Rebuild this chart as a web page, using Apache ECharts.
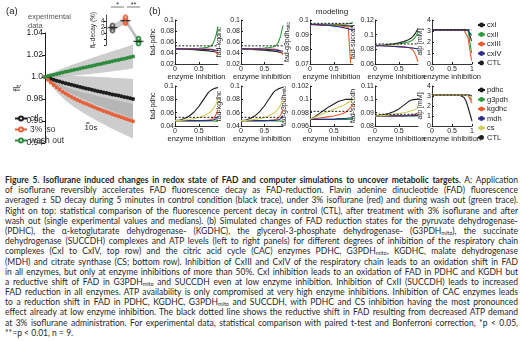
<!DOCTYPE html>
<html>
<head>
<meta charset="utf-8">
<script src="https://cdn.jsdelivr.net/npm/echarts@6/dist/echarts.min.js"></script>
<style>
  html, body { margin: 0; padding: 0; background: #fff; width: 523px; height: 341px; overflow: hidden; }
  #chart { position: absolute; left: 0; top: 0; width: 523px; height: 172px; }
  #caption { position: absolute; left: 5px; top: 175px; width: 513px;
             font-family: Lato, 'Open Sans', sans-serif; font-size: 8.5px; line-height: 10.2px; color: #262626; }
  #caption div { text-align: justify; text-align-last: justify; height: 10.2px; overflow: hidden; }
  #caption div.last { text-align-last: left; }
  #caption sub { font-size: 5.5px; vertical-align: -1px; line-height: 0; }
</style>
</head>
<body>
<div id="chart"></div>
<div id="caption">
  <div><b>Figure 5. Isoflurane induced changes in redox state of FAD and computer simulations to uncover metabolic targets.</b> A: Application</div>
  <div>of isoflurane reversibly accelerates FAD fluorescence decay as FAD-reduction. Flavin adenine dinucleotide (FAD) fluorescence</div>
  <div>averaged ± SD decay during 5 minutes in control condition (black trace), under 3% isoflurane (red) and during wash out (green trace).</div>
  <div>Right on top: statistical comparison of the fluorescence percent decay in control (CTL), after treatment with 3% isoflurane and after</div>
  <div>wash out (single experimental values and medians). (b) Simulated changes of FAD reduction states for the pyruvate dehydrogenase-</div>
  <div>(PDHC), the α-ketoglutarate dehydrogenase- (KGDHC), the glycerol-3-phosphate dehydrogenase- (G3PDH<sub>mito</sub>), the succinate</div>
  <div>dehydrogenase (SUCCDH) complexes and ATP levels (left to right panels) for different degrees of inhibition of the respiratory chain</div>
  <div>complexes (CxI to CxIV, top row) and the citric acid cycle (CAC) enzymes PDHC, G3PDH<sub>mito</sub>, KGDHC, malate dehydrogenase</div>
  <div>(MDH) and citrate synthase (CS; bottom row). Inhibition of CxIII and CxIV of the respiratory chain leads to an oxidation shift in FAD</div>
  <div>in all enzymes, but only at enzyme inhibitions of more than 50%. CxI inhibition leads to an oxidation of FAD in PDHC and KGDH but</div>
  <div>a reductive shift of FAD in G3PDH<sub>mito</sub> and SUCCDH even at low enzyme inhibition. Inhibition of CxII (SUCCDH) leads to increased</div>
  <div>FAD reduction in all enzymes. ATP availability is only compromised at very high enzyme inhibitions. Inhibition of CAC enzymes leads</div>
  <div>to a reduction shift in FAD in PDHC, KGDHC, G3PDH<sub>mito</sub> and SUCCDH, with PDHC and CS inhibition having the most pronounced</div>
  <div>effect already at low enzyme inhibition. The black dotted line shows the reductive shift in FAD resulting from decreased ATP demand</div>
  <div>at 3% isoflurane administration. For experimental data, statistical comparison with paired t-test and Bonferroni correction, *p &lt; 0.05,</div>
  <div class="last">**=p &lt; 0.01, n = 9.</div>
</div>
<script>
// ---------- (a) experimental FAD fluorescence, 5 min recordings ----------
const timeSec = [0,10,20,30,40,50,60,70,80,90,100,110,120,130,140,150,160,170,180,190,200,210,220,230,240,250,260,270,280,290,300];
const flCtl  = [1.0000,0.9991,0.9983,0.9975,0.9966,0.9959,0.9951,0.9944,0.9936,0.9929,0.9923,0.9916,0.9909,0.9903,0.9896,0.9890,0.9884,0.9878,0.9871,0.9866,0.9860,0.9854,0.9848,0.9842,0.9836,0.9831,0.9825,0.9819,0.9813,0.9807,0.9800];
const flIso  = [1.0000,0.9975,0.9951,0.9928,0.9906,0.9886,0.9867,0.9849,0.9833,0.9818,0.9804,0.9791,0.9779,0.9767,0.9756,0.9745,0.9734,0.9723,0.9712,0.9702,0.9692,0.9682,0.9672,0.9662,0.9652,0.9643,0.9634,0.9625,0.9616,0.9607,0.9598];
const flWash = [1.0000,1.0008,1.0015,1.0021,1.0028,1.0034,1.0041,1.0047,1.0053,1.0059,1.0065,1.0071,1.0077,1.0083,1.0089,1.0095,1.0101,1.0107,1.0113,1.0119,1.0125,1.0131,1.0137,1.0143,1.0149,1.0155,1.0161,1.0167,1.0173,1.0180,1.0187];
const sdCtl  = [0,0.0017,0.0028,0.0037,0.0046,0.0054,0.0061,0.0068,0.0075,0.0081,0.0086,0.0092,0.0098,0.0104,0.0109,0.0114,0.0120,0.0124,0.0129,0.0133,0.0138,0.0143,0.0147,0.0152,0.0156,0.0161,0.0164,0.0169,0.0173,0.0177,0.0181];
const sdIso  = [0,0.0016,0.0026,0.0034,0.0042,0.0049,0.0056,0.0062,0.0068,0.0073,0.0078,0.0083,0.0088,0.0093,0.0097,0.0102,0.0106,0.0110,0.0114,0.0118,0.0122,0.0126,0.0130,0.0134,0.0137,0.0141,0.0144,0.0148,0.0151,0.0155,0.0158];
const sdWash = [0,0.0010,0.0016,0.0022,0.0028,0.0033,0.0037,0.0041,0.0045,0.0049,0.0053,0.0056,0.0060,0.0063,0.0066,0.0069,0.0072,0.0075,0.0078,0.0081,0.0084,0.0086,0.0089,0.0091,0.0094,0.0096,0.0099,0.0101,0.0104,0.0106,0.0110];
const flTickLabels = ['0.94','0.96','0.98','1.0','1.02','1.04'];

// inset: percent decay per cell (n = 9) and medians
const decayGroups = ['CTL','iso','wash'];
const decayCtl  = [1.2,1.5,1.8,2.0,2.1,2.3,2.6,1.0,0.7];
const decayIso  = [3.2,3.8,4.1,4.4,4.6,4.9,5.3,3.5,4.0];
const decayWash = [-2.0,-2.5,-2.8,-3.0,-3.2,-3.4,-2.2,-1.8,-3.6];
const decayMedians = [1.8,4.1,-2.8];
const decayTickLabels = ['6','4','2','0'];

// ---------- (b) model: FAD reduction and ATP vs enzyme inhibition ----------
const inhib = [0,0.1,0.2,0.3,0.4,0.5,0.6,0.7,0.75,0.8,0.85,0.9];
const complexNames = ['cxI','cxII','cxIII','cxIV'];
const cacNames = ['pdhc','g3pdh','kgdhc','mdh','cs'];
const panelTitles = ['fad-pdhc','fad-kgdhc','fad-g3pdh{s|mito}','fad-succdh','atp [mM]'];

// top row: respiratory chain complex inhibition (cxI, cxII, cxIII, cxIV)
const rcPdhc = [
  [0.0475,0.0472,0.0468,0.0463,0.0458,0.0452,0.0446,0.0438,0.0433,0.0427,0.0419,0.0408],
  [0.0475,0.0476,0.0478,0.0480,0.0483,0.0487,0.0494,0.0507,0.0526,0.0575,0.0690,0.0885],
  [0.0475,0.0475,0.0475,0.0475,0.0475,0.0475,0.0475,0.0474,0.0471,0.0462,0.0428,0.0362],
  [0.0475,0.0475,0.0474,0.0473,0.0471,0.0469,0.0466,0.0462,0.0459,0.0456,0.0451,0.0444]];
const rcKgdhc = [
  [0.0475,0.0472,0.0467,0.0462,0.0456,0.0450,0.0443,0.0434,0.0428,0.0420,0.0408,0.0390],
  [0.0475,0.0476,0.0478,0.0481,0.0485,0.0490,0.0498,0.0514,0.0535,0.0590,0.0710,0.0900],
  [0.0475,0.0475,0.0475,0.0475,0.0475,0.0475,0.0474,0.0472,0.0468,0.0458,0.0420,0.0365],
  [0.0475,0.0475,0.0474,0.0472,0.0470,0.0467,0.0463,0.0457,0.0453,0.0448,0.0440,0.0428]];
const rcG3pdh = [
  [0.0970,0.0969,0.0968,0.0967,0.0966,0.0965,0.0964,0.0962,0.0961,0.0960,0.0958,0.0955],
  [0.0970,0.0970,0.0970,0.0970,0.0970,0.0970,0.0970,0.0971,0.0972,0.0974,0.0977,0.0982],
  [0.0968,0.0967,0.0966,0.0965,0.0964,0.0962,0.0960,0.0957,0.0955,0.0950,0.0705,null],
  [0.0970,0.0969,0.0967,0.0965,0.0962,0.0958,0.0954,0.0948,0.0944,0.0940,0.0935,0.0928]];
const rcSuccdh = [
  [0.0850,0.0855,0.0860,0.0868,0.0877,0.0888,0.0905,0.0930,0.0950,0.0980,0.1025,0.1080],
  [0.0850,0.0854,0.0858,0.0863,0.0869,0.0876,0.0885,0.0900,0.0912,0.0935,0.0970,0.1040],
  [0.0850,0.0849,0.0848,0.0846,0.0843,0.0840,0.0835,0.0825,0.0812,0.0785,0.0725,0.0630],
  [0.0850,0.0848,0.0845,0.0842,0.0838,0.0834,0.0830,0.0825,0.0821,0.0817,0.0812,0.0806]];
const inhibAtpRc = [0,0.2,0.4,0.6,0.7,0.8,0.85,0.9,0.95,0.99];
const rcAtp = [
  [3.1,3.1,3.1,3.1,3.1,3.1,3.1,3.09,3.05,2.1],
  [3.1,3.1,3.1,3.1,3.1,3.1,3.1,3.08,2.9,1.0],
  [3.1,3.1,3.1,3.1,3.1,3.08,3.0,2.4,1.2,0.3],
  [3.1,3.1,3.1,3.1,3.1,3.1,3.1,3.07,3.0,2.6]];
const ctlRc = [0.0530,0.0530,0.0977,0.0873,3.1];

// bottom row: citric acid cycle enzyme inhibition (pdhc, g3pdh, kgdhc, mdh, cs)
const cacPdhc = [
  [0.0480,0.0490,0.0512,0.0550,0.0610,0.0695,0.0800,0.0905,0.0935,0.0955,0.0968,0.0978],
  [0.0478,0.0478,0.0477,0.0477,0.0476,0.0476,0.0475,0.0475,0.0474,0.0474,0.0473,0.0473],
  [0.0480,0.0480,0.0480,0.0480,0.0481,0.0482,0.0484,0.0490,0.0496,0.0515,0.0560,0.0650],
  [0.0480,0.0480,0.0480,0.0480,0.0480,0.0480,0.0481,0.0483,0.0485,0.0490,0.0505,0.0545],
  [0.0480,0.0484,0.0490,0.0498,0.0510,0.0527,0.0552,0.0590,0.0618,0.0655,0.0715,0.0800]];
const cacKgdhc = [
  [0.0480,0.0491,0.0514,0.0553,0.0615,0.0700,0.0805,0.0908,0.0937,0.0957,0.0970,0.0980],
  [0.0478,0.0478,0.0477,0.0477,0.0476,0.0476,0.0475,0.0475,0.0474,0.0474,0.0473,0.0473],
  [0.0480,0.0480,0.0480,0.0481,0.0482,0.0483,0.0486,0.0493,0.0500,0.0520,0.0565,0.0655],
  [0.0480,0.0480,0.0480,0.0480,0.0480,0.0481,0.0482,0.0484,0.0486,0.0492,0.0510,0.0555],
  [0.0480,0.0484,0.0490,0.0499,0.0511,0.0529,0.0555,0.0594,0.0622,0.0660,0.0720,0.0805]];
const cacG3pdh = [
  [0.0970,0.0974,0.0979,0.0984,0.0989,0.0993,0.0997,0.0999,0.1000,0.1000,0.1000,0.1000],
  [0.0970,0.0970,0.0970,0.0970,0.0970,0.0970,0.0970,0.0970,0.0970,0.0970,0.0970,0.0970],
  [0.0970,0.0971,0.0972,0.0973,0.0974,0.0975,0.0977,0.0979,0.0981,0.0984,0.0988,0.0993],
  [0.0970,0.0970,0.0970,0.0970,0.0970,0.0970,0.0971,0.0971,0.0971,0.0972,0.0972,0.0973],
  [0.0970,0.0973,0.0976,0.0979,0.0982,0.0985,0.0988,0.0991,0.0993,0.0995,0.0997,0.0999]];
const cacSuccdh = [
  [0.0875,0.0880,0.0886,0.0895,0.0908,0.0928,0.0955,0.0983,0.0993,0.0998,0.1000,0.1001],
  [0.0875,0.0875,0.0875,0.0875,0.0875,0.0875,0.0875,0.0875,0.0875,0.0875,0.0875,0.0875],
  [0.0875,0.0875,0.0875,0.0876,0.0876,0.0877,0.0878,0.0880,0.0882,0.0885,0.0890,0.0897],
  [0.0875,0.0875,0.0875,0.0875,0.0876,0.0876,0.0876,0.0877,0.0877,0.0878,0.0879,0.0881],
  [0.0875,0.0877,0.0880,0.0884,0.0888,0.0893,0.0899,0.0907,0.0912,0.0918,0.0926,0.0936]];
const inhibAtpCac = [0,0.2,0.4,0.6,0.7,0.75,0.8,0.85,0.9,0.95,1.0];
const cacAtp = [
  [3.1,3.1,3.1,3.1,3.08,3.02,2.85,2.5,1.9,1.2,0.5],
  [3.1,3.1,3.1,3.1,3.1,3.1,3.1,3.1,3.1,3.08,2.6],
  [3.1,3.1,3.1,3.1,3.1,3.1,3.1,3.1,3.08,3.0,2.3],
  [3.1,3.1,3.1,3.1,3.1,3.1,3.1,3.1,3.1,3.1,3.0],
  [3.1,3.1,3.1,3.1,3.1,3.1,3.1,3.1,3.09,3.05,2.8]];
const ctlCac = [0.0530,0.0530,0.0982,0.0888,3.1];

// ---------- styling ----------
const FONT = "'Liberation Sans', Arial, sans-serif";
const INK = '#1e1e1e';
const complexColors = ['#1e1e1e', '#2f9a3c', '#ea5a2e', '#2b2d86'];
const cacColors = ['#1e1e1e', '#2f9a3c', '#ea5a2e', '#2b2d86', '#cfcf5a'];
const expColors = { ctl: '#1e1e1e', iso: '#e8603a', wash: '#2e8c3e' };

const grid = [], xAxis = [], yAxis = [], series = [];

// (a) main trace axes
grid.push({ left: 45, top: 33, width: 88, height: 110 });
xAxis.push({ gridIndex: 0, type: 'category', data: timeSec, boundaryGap: false, show: false });
yAxis.push({
  gridIndex: 0, type: 'value', min: 0.94, max: 1.04, interval: 0.02,
  axisLine: { show: true, lineStyle: { color: INK, width: 1 } },
  axisTick: { show: true, length: 3, lineStyle: { color: INK } },
  axisLabel: { fontSize: 8.5, color: INK, margin: 2, fontFamily: FONT, formatter: (v, i) => flTickLabels[i] },
  splitLine: { show: false },
  name: '{m|fl}{s|t}', nameLocation: 'middle', nameGap: 18,
  nameTextStyle: { fontFamily: FONT, color: INK, rich: { m: { fontSize: 9 }, s: { fontSize: 6.5, padding: [4, 0, 0, 0] } } }
});

// (a) inset: percent decay
grid.push({ left: 106, top: 15, width: 39, height: 30 });
xAxis.push({ gridIndex: 1, type: 'category', data: decayGroups, show: false });
yAxis.push({
  gridIndex: 1, type: 'value', min: -4, max: 6, interval: 2,
  axisLine: { show: true, lineStyle: { color: INK, width: 0.8 } },
  axisTick: { show: true, length: 2, lineStyle: { color: INK } },
  axisLabel: { fontSize: 6.5, color: INK, margin: 1.5, fontFamily: FONT,
               formatter: v => (v >= 0 ? decayTickLabels[(6 - v) / 2] : '') },
  splitLine: { show: false },
  name: '{m|fl}{s|t}{m|-decay (%)}', nameLocation: 'middle', nameGap: 8,
  nameTextStyle: { fontFamily: FONT, color: INK, rich: { m: { fontSize: 6.5 }, s: { fontSize: 5, padding: [3, 0, 0, 0] } } }
});

// (b) small model panels
const colLeft = [175, 241, 310, 375, 432];
const colWidth = [43, 42, 43, 43, 40];
const rowTop = [20, 86];
const rowHeight = [44, 40];
const yRanges = [
  [[0.02, 0.1, 0.02], [0.02, 0.1, 0.02], [0.07, 0.1, 0.01], [0.06, 0.12, 0.02], [0, 4, 1]],
  [[0.04, 0.1, 0.02], [0.04, 0.1, 0.02], [0.096, 0.102, 0.002], [0.08, 0.11, 0.01], [0, 4, 1]]
];
const rowData = [
  [rcPdhc, rcKgdhc, rcG3pdh, rcSuccdh, rcAtp],
  [cacPdhc, cacKgdhc, cacG3pdh, cacSuccdh, cacAtp]
];
const rowNames = [complexNames, cacNames];
const rowColors = [complexColors, cacColors];
const rowCtl = [ctlRc, ctlCac];
const rowAtpX = [inhibAtpRc, inhibAtpCac];

for (let r = 0; r < 2; r++) {
  for (let c = 0; c < 5; c++) {
    const gi = grid.length;
    const isAtp = c === 4;
    const xmax = isAtp ? 1 : 0.9;
    grid.push({ left: colLeft[c], top: rowTop[r], width: colWidth[c], height: rowHeight[r] });
    xAxis.push({
      gridIndex: gi, type: 'value', min: 0, max: xmax, interval: 0.5,
      axisLine: { show: true, lineStyle: { color: INK, width: 0.9 } },
      axisTick: { show: true, inside: true, length: 2, lineStyle: { color: INK } },
      axisLabel: { fontSize: 7, color: INK, margin: 1.5, fontFamily: FONT, showMaxLabel: isAtp,
                   formatter: v => String(+v.toFixed(2)) },
      splitLine: { show: false },
      name: 'enzyme inhibition', nameLocation: 'middle', nameGap: 9,
      nameTextStyle: { fontSize: 7.5, color: INK, fontFamily: FONT }
    });
    const yr = yRanges[r][c];
    yAxis.push({
      gridIndex: gi, type: 'value', min: yr[0], max: yr[1], interval: yr[2],
      axisLine: { show: true, lineStyle: { color: INK, width: 0.9 } },
      axisTick: { show: true, inside: true, length: 2, lineStyle: { color: INK } },
      axisLabel: { fontSize: 7, color: INK, margin: 1, fontFamily: FONT,
                   formatter: v => String(+v.toFixed(4)) },
      splitLine: { show: false },
      name: panelTitles[c], nameLocation: 'middle', nameGap: isAtp ? 7 : 15,
      nameTextStyle: { fontSize: 7, color: INK, fontFamily: FONT,
                       rich: { s: { fontSize: 4.5, padding: [3, 0, 0, 0] } } }
    });
    const xs = isAtp ? rowAtpX[r] : inhib;
    const vals = rowData[r][c];
    vals.forEach((arr, j) => {
      series.push({
        type: 'line', name: rowNames[r][j], xAxisIndex: gi, yAxisIndex: gi,
        data: xs.map((x, k) => [x, arr[k]]),
        symbol: 'none', smooth: false, clip: true, connectNulls: false,
        lineStyle: { color: rowColors[r][j], width: 1.1 },
        itemStyle: { color: rowColors[r][j] }, z: 3 + j
      });
    });
    series.push({
      type: 'line', name: 'CTL', xAxisIndex: gi, yAxisIndex: gi,
      data: [[0, rowCtl[r][c]], [xmax, rowCtl[r][c]]],
      symbol: 'none', lineStyle: { color: INK, width: 1, type: [2, 1.6] },
      itemStyle: { color: INK }, z: 10
    });
  }
}

// (a) SD bands: lower edge + stacked band width
function band(mean, sd, key) {
  series.push({
    type: 'line', xAxisIndex: 0, yAxisIndex: 0, stack: key, symbol: 'none', silent: true,
    data: mean.map((m, i) => m - sd[i]), lineStyle: { width: 0, opacity: 0 }, z: 1
  });
  series.push({
    type: 'line', xAxisIndex: 0, yAxisIndex: 0, stack: key, symbol: 'none', silent: true,
    data: sd.map(s => 2 * s), lineStyle: { width: 0, opacity: 0 },
    areaStyle: { color: '#a4a4a4', opacity: 0.55 }, z: 1
  });
}
band(flWash, sdWash, 'bw');
band(flCtl, sdCtl, 'bc');
band(flIso, sdIso, 'bi');

// (a) mean traces
[['ctl', flCtl, expColors.ctl], ['3% iso', flIso, expColors.iso], ['wash out', flWash, expColors.wash]].forEach(([name, d, col], i) => {
  series.push({
    type: 'line', name, xAxisIndex: 0, yAxisIndex: 0, data: d,
    symbol: 'emptyCircle', symbolSize: 2, showSymbol: true, showAllSymbol: true,
    lineStyle: { color: col, width: 1 }, itemStyle: { color: col, borderWidth: 0.6 }, z: 5 + i
  });
});

// inset: paired cells, group points and medians
for (let i = 0; i < decayCtl.length; i++) {
  series.push({
    type: 'line', xAxisIndex: 1, yAxisIndex: 1, silent: true,
    data: [decayCtl[i], decayIso[i], decayWash[i]], symbol: 'none',
    lineStyle: { color: '#b4b4b4', width: 0.6 }, z: 2
  });
}
[[0, decayCtl, '#5a5a5a'], [1, decayIso, expColors.iso], [2, decayWash, expColors.wash]].forEach(([g, d, col]) => {
  series.push({
    type: 'scatter', xAxisIndex: 1, yAxisIndex: 1, data: d.map(v => [g, v]),
    symbol: 'emptyCircle', symbolSize: 3.5, itemStyle: { color: col, borderWidth: 0.8 }, z: 3
  });
});
series.push({
  type: 'scatter', xAxisIndex: 1, yAxisIndex: 1, data: decayMedians.map((v, g) => [g, v]),
  symbol: 'rect', symbolSize: [10, 1.4], itemStyle: { color: INK }, z: 4
});

const legendText = { fontSize: 7.5, color: INK, fontFamily: FONT };
const option = {
  animation: false,
  textStyle: { fontFamily: FONT },
  grid, xAxis, yAxis, series,
  legend: [
    { data: ['ctl', '3% iso', 'wash out'], left: 14, top: 114, orient: 'vertical', itemGap: 2,
      itemWidth: 12, itemHeight: 5, selectedMode: false, padding: 0,
      textStyle: { fontSize: 8.5, color: '#333', fontFamily: FONT, padding: [0, 0, 0, -2] } },
    { data: complexNames.concat(['CTL']), left: 477, top: 21, orient: 'vertical', itemGap: 1.5,
      itemWidth: 7, itemHeight: 6, selectedMode: false, padding: 0,
      textStyle: Object.assign({ padding: [0, 0, 0, -3] }, legendText) },
    { data: cacNames.concat(['CTL']), left: 477, top: 86, orient: 'vertical', itemGap: 1.5,
      itemWidth: 7, itemHeight: 6, selectedMode: false, padding: 0,
      textStyle: Object.assign({ padding: [0, 0, 0, -3] }, legendText) }
  ],
  graphic: [
    { type: 'text', left: 6, top: 6, style: { text: '(a)', fontSize: 9.5, fill: INK, fontFamily: FONT } },
    { type: 'text', left: 28, top: 12, style: { text: 'experimental\ndata', fontSize: 7.5, lineHeight: 9, fill: '#555', fontFamily: FONT } },
    { type: 'text', left: 149, top: 6, style: { text: '(b)', fontSize: 9.5, fill: INK, fontFamily: FONT } },
    { type: 'text', x: 332, y: 12, style: { text: 'modeling', fontSize: 8, fill: INK, fontFamily: FONT, align: 'center', verticalAlign: 'middle' } },
    { type: 'text', x: 91, y: 128, style: { text: '10s', fontSize: 8, fill: INK, fontFamily: FONT, align: 'center', verticalAlign: 'middle' } },
    { type: 'line', shape: { x1: 86, y1: 123, x2: 89.5, y2: 123 }, style: { stroke: INK, lineWidth: 1 } },
    { type: 'line', shape: { x1: 111, y1: 7, x2: 124, y2: 7 }, style: { stroke: INK, lineWidth: 0.6 } },
    { type: 'text', x: 117.5, y: 5, style: { text: '*', fontSize: 7, fill: INK, fontFamily: FONT, align: 'center', verticalAlign: 'middle' } },
    { type: 'line', shape: { x1: 127, y1: 7, x2: 140, y2: 7 }, style: { stroke: INK, lineWidth: 0.6 } },
    { type: 'text', x: 133.5, y: 5, style: { text: '**', fontSize: 7, fill: INK, fontFamily: FONT, align: 'center', verticalAlign: 'middle' } }
  ]
};

const chart = echarts.init(document.getElementById('chart'), null, { renderer: 'canvas' });
chart.setOption(option);
</script>
</body>
</html>
